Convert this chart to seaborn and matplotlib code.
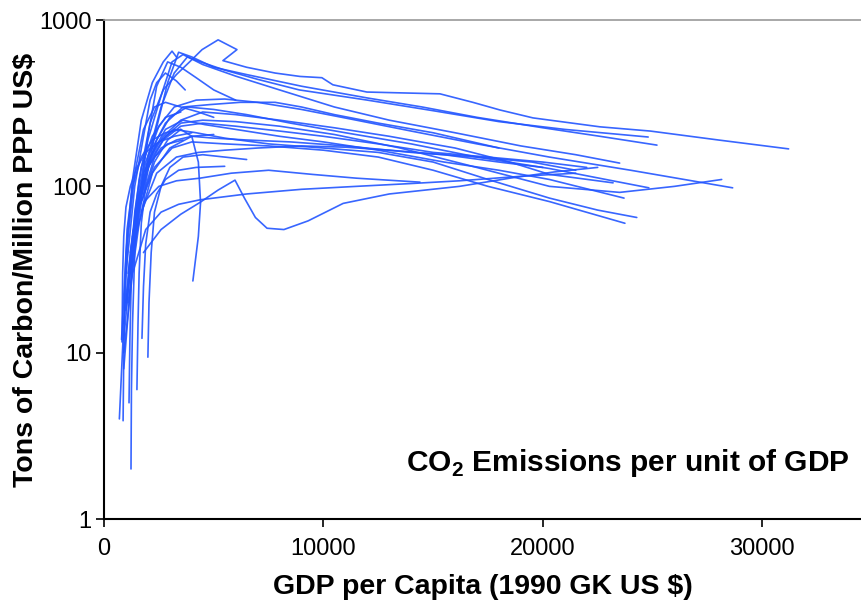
import numpy as np
import pandas as pd
import seaborn as sns
import matplotlib.pyplot as plt
from matplotlib.ticker import FixedLocator, NullLocator, FixedFormatter

# GDP per capita (x) and carbon intensity (y), one trajectory per country
a1_x = [900, 1200, 1600, 2100, 2700, 3300, 3900, 4470, 5200, 6060, 5420, 6500, 7800, 8930, 9930, 10430, 11980, 15310, 16810, 18040, 19550, 22600, 24900, 28000, 31200]
a1_y = [15, 40, 110, 240, 380, 470, 560, 664, 760, 664, 570, 520, 480, 458, 450, 408, 369, 360, 320, 288, 258, 228, 215, 190, 168]
a2_x = [1500, 2000, 2600, 3200, 3800, 4400, 5500, 7000, 8900, 12000, 15000, 18000, 21000, 24800]
a2_y = [60, 150, 300, 480, 600, 560, 500, 440, 380, 330, 285, 245, 220, 198]
a3_x = [1800, 2300, 2900, 3400, 4000, 5000, 6500, 9000, 12000, 14500, 17000, 20000, 22600, 25200]
a3_y = [90, 200, 420, 640, 600, 520, 470, 400, 340, 300, 260, 225, 200, 177]
a4_x = [1100, 1500, 2000, 2600, 3100, 3600, 4500, 6000, 8000, 10500, 13000, 16000, 19000, 21500, 23500]
a4_y = [30, 80, 190, 350, 560, 620, 540, 460, 380, 300, 250, 210, 175, 155, 138]

b1_x = [1000, 1400, 1900, 2500, 3200, 4200, 5500, 7000, 9000, 11500, 14000, 17000, 20300, 24000, 28650]
b1_y = [20, 60, 140, 230, 300, 330, 335, 320, 290, 250, 215, 180, 150, 125, 98]
b2_x = [1200, 1600, 2200, 2800, 3500, 4500, 6000, 8000, 10500, 13500, 16500, 20300, 23500, 26000, 28150]
b2_y = [40, 90, 150, 200, 240, 250, 245, 230, 205, 170, 135, 100, 92, 100, 110]
b3_x = [900, 1300, 1800, 2400, 3000, 3800, 5000, 6500, 8500, 11000, 14000, 17000, 20300, 24830]
b3_y = [12, 45, 110, 190, 260, 300, 290, 270, 240, 210, 180, 150, 128, 98]
b4_x = [1000, 1500, 2100, 2800, 3600, 4600, 6000, 8000, 10000, 12500, 15500, 18000, 20300, 23700]
b4_y = [18, 70, 150, 220, 250, 235, 220, 200, 185, 165, 140, 125, 110, 85]
b5_x = [1300, 1800, 2400, 3200, 4200, 5500, 7500, 10000, 12500, 15000, 17500, 20300, 22500, 24280]
b5_y = [50, 120, 180, 220, 210, 195, 180, 170, 160, 140, 110, 85, 72, 65]
b6_x = [1100, 1600, 2300, 3100, 4000, 5500, 7500, 10000, 12500, 15000, 17500, 20300, 23740]
b6_y = [25, 75, 130, 170, 185, 180, 175, 165, 150, 125, 100, 81, 60]
b7_x = [1500, 2000, 2700, 3500, 4500, 6000, 8000, 10500, 13000, 16000, 18500, 20300, 23200]
b7_y = [70, 140, 200, 250, 280, 270, 250, 225, 200, 170, 140, 118, 105]
b8_x = [1800, 2600, 3500, 4370, 5200, 5970, 6400, 6900, 7430, 8200, 9300, 10900, 13000, 16200, 18500, 20500, 22500]
b8_y = [40, 55, 68, 80, 95, 109, 85, 65, 56, 55, 62, 79, 90, 100, 112, 122, 130]
b9_x = [900, 1300, 1900, 2600, 3400, 4370, 6500, 9000, 11500, 14000, 16200, 19000, 21500]
b9_y = [10, 30, 55, 70, 78, 83, 90, 96, 100, 104, 108, 115, 120]
b10_x = [1200, 1700, 2300, 2900, 3500, 4000, 4300, 4400, 4300, 4050]
b10_y = [30, 80, 140, 190, 220, 200, 140, 80, 50, 27]

c1_x = [1400, 2000, 2700, 3500, 4500, 6000, 8000, 10000, 12500, 15000, 17500, 20000, 22000]
c1_y = [55, 130, 190, 230, 240, 230, 215, 200, 180, 160, 150, 140, 130]
c2_x = [1100, 1600, 2200, 3000, 4000, 5000, 6500, 8500, 11000, 14000, 17000, 19500, 21500]
c2_y = [20, 60, 120, 170, 200, 195, 190, 185, 175, 160, 150, 140, 125]
c3_x = [1600, 2100, 2800, 3600, 4800, 6200, 7800, 9000, 10500, 12500, 15000, 18000]
c3_y = [80, 160, 240, 300, 310, 320, 320, 300, 270, 240, 210, 170]
c4_x = [1700, 2400, 3300, 4300, 5500, 7000, 9000, 11000, 13000, 15500, 18000, 20000]
c4_y = [70, 120, 150, 160, 165, 170, 175, 172, 165, 155, 140, 130]
c5_x = [1300, 1800, 2500, 3300, 4370, 5800, 7500, 9500, 11500, 14400]
c5_y = [40, 80, 100, 108, 112, 120, 125, 118, 112, 106]

d1_x = [800, 1000, 1300, 1700, 2200, 2700, 3100, 3300]
d1_y = [12, 40, 110, 250, 420, 560, 650, 600]
d2_x = [900, 1200, 1600, 2000, 2400, 2900, 3500, 4200, 5000, 6000]
d2_y = [8, 25, 80, 200, 400, 560, 520, 450, 380, 330]
d3_x = [1000, 1400, 1800, 2100, 2400, 2800, 3300, 3700]
d3_y = [30, 100, 200, 330, 420, 480, 430, 380]
d4_x = [700, 900, 1100, 1400, 1800, 2300, 2800, 3500, 4300, 5000]
d4_y = [4, 15, 50, 120, 220, 300, 320, 300, 280, 260]

s1_x = [870, 900, 950, 1050, 1300, 1700, 2200, 2800, 3500]
s1_y = [3.9, 10, 25, 55, 100, 150, 190, 210, 220]
s2_x = [1230, 1250, 1300, 1400, 1600, 2000, 2600, 3300, 4000, 5000]
s2_y = [2.0, 6, 15, 40, 80, 130, 170, 190, 200, 205]
s3_x = [1500, 1550, 1600, 1700, 1900, 2300, 2900, 3600]
s3_y = [6, 15, 30, 60, 100, 150, 180, 190]
s4_x = [2000, 2050, 2150, 2300, 2600, 3000, 3600, 4500, 5500, 6500]
s4_y = [9.4, 20, 40, 70, 100, 130, 150, 155, 150, 145]
s5_x = [1140, 1180, 1250, 1400, 1700, 2200, 2800, 3500]
s5_y = [5, 12, 30, 70, 130, 200, 260, 280]
s6_x = [820, 850, 900, 1000, 1200, 1500, 1900, 2500, 3200, 4000]
s6_y = [11.6, 30, 50, 75, 100, 130, 160, 185, 200, 210]
s7_x = [1730, 1800, 1900, 2100, 2400, 2800, 3400, 4200, 5500]
s7_y = [12.2, 25, 45, 70, 90, 110, 125, 130, 132]

series = {
    'a1': (a1_x, a1_y), 'a2': (a2_x, a2_y), 'a3': (a3_x, a3_y), 'a4': (a4_x, a4_y),
    'b1': (b1_x, b1_y), 'b2': (b2_x, b2_y), 'b3': (b3_x, b3_y), 'b4': (b4_x, b4_y),
    'b5': (b5_x, b5_y), 'b6': (b6_x, b6_y), 'b7': (b7_x, b7_y), 'b8': (b8_x, b8_y),
    'b9': (b9_x, b9_y), 'b10': (b10_x, b10_y),
    'c1': (c1_x, c1_y), 'c2': (c2_x, c2_y), 'c3': (c3_x, c3_y), 'c4': (c4_x, c4_y),
    'c5': (c5_x, c5_y),
    'd1': (d1_x, d1_y), 'd2': (d2_x, d2_y), 'd3': (d3_x, d3_y), 'd4': (d4_x, d4_y),
    's1': (s1_x, s1_y), 's2': (s2_x, s2_y), 's3': (s3_x, s3_y), 's4': (s4_x, s4_y),
    's5': (s5_x, s5_y), 's6': (s6_x, s6_y), 's7': (s7_x, s7_y),
}

rows = []
for name, (xs, ys) in series.items():
    for i, (x, y) in enumerate(zip(xs, ys)):
        rows.append({'country': name, 'step': i, 'gdp': x, 'carbon': y})
df = pd.DataFrame(rows)

sns.set_style('white')
plt.rcParams['font.family'] = ['Liberation Sans', 'DejaVu Sans']
plt.rcParams['text.color'] = 'black'
plt.rcParams['axes.labelcolor'] = 'black'
plt.rcParams['xtick.color'] = 'black'
plt.rcParams['ytick.color'] = 'black'
plt.rcParams['mathtext.fontset'] = 'custom'
plt.rcParams['mathtext.bf'] = 'Liberation Sans:bold'
plt.rcParams['mathtext.rm'] = 'Liberation Sans:bold'

fig = plt.figure(figsize=(8.61, 6.05), dpi=100)
ax = fig.add_axes([0.1208, 0.1421, 0.8792, 0.8248])

sns.lineplot(data=df, x='gdp', y='carbon', units='country', estimator=None,
             sort=False, color='#2255ff', linewidth=1.2, alpha=0.9, ax=ax)

ax.set_yscale('log')
ax.set_ylim(1, 1000)
ax.set_xlim(0, 34500)
ax.yaxis.set_major_locator(FixedLocator([1, 10, 100, 1000]))
ax.yaxis.set_major_formatter(FixedFormatter(['1', '10', '100', '1000']))
ax.yaxis.set_minor_locator(NullLocator())
ax.set_xticks([0, 10000, 20000, 30000])
ax.set_xticklabels(['0', '10000', '20000', '30000'])

for s in ['left', 'bottom']:
    ax.spines[s].set_color('black')
    ax.spines[s].set_linewidth(1.5)
ax.spines['top'].set_color('#999999')
ax.spines['top'].set_linewidth(1.2)
ax.spines['right'].set_visible(False)

ax.tick_params(axis='both', which='major', labelsize=17, length=6, width=1.2,
               color='black', labelcolor='black', direction='out', bottom=True, left=True)
ax.tick_params(axis='y', pad=3)
ax.tick_params(axis='x', pad=8)

ax.set_xlabel('GDP per Capita (1990 GK US $)', fontsize=20.5, fontweight='bold',
              labelpad=10, color='black')
ax.set_ylabel('Tons of Carbon/Million PPP US$', fontsize=20.5, fontweight='bold',
              labelpad=0, color='black')

ax.text(0.985, 0.112, r'CO$_\mathbf{2}$ Emissions per unit of GDP', transform=ax.transAxes,
        ha='right', va='center', fontsize=21.5, fontweight='bold', color='black')

fig.savefig('out.png', dpi=100)
